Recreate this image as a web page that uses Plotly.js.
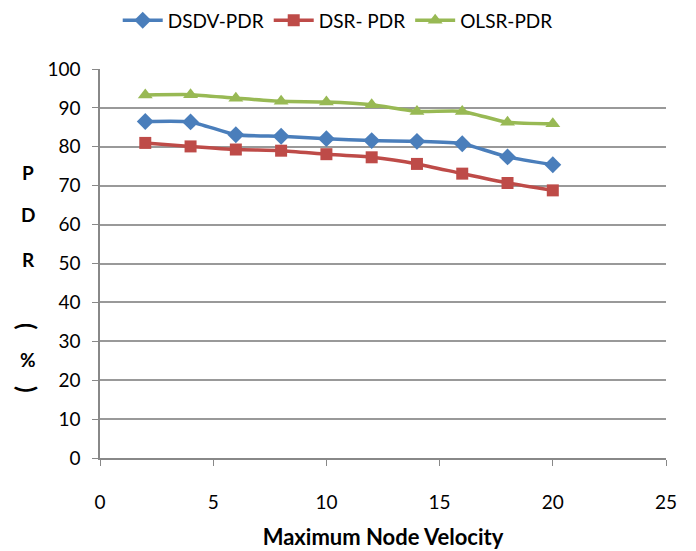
<!DOCTYPE html>
<html><head><meta charset="utf-8">
<script src="https://cdn.plot.ly/plotly-3.0.1.min.js"></script>
<style>html,body{margin:0;padding:0;background:#fff}#c{width:696px;height:551px}</style>
</head><body><div id="c"></div>
<script>
const velocity = [2, 4, 6, 8, 10, 12, 14, 16, 18, 20];
const dsdvPdr = [86.5, 86.4, 83.1, 82.7, 82.1, 81.6, 81.4, 80.8, 77.4, 75.4];
const dsrPdr  = [81.0, 80.1, 79.3, 79.0, 78.1, 77.3, 75.6, 73.1, 70.7, 68.8];
const olsrPdr = [93.3, 93.4, 92.5, 91.7, 91.5, 90.8, 89.1, 89.1, 86.3, 85.9];
const seriesNames = ["DSDV-PDR", "DSR- PDR", "OLSR-PDR"];
const yTitleChars = ["P", "D", "R", "(", "%", ")"];

const font = "Lato, Carlito, sans-serif";
function tr(y, name, color, sym, size) {
  return {x: velocity, y: y, name: name, type: "scatter", mode: "lines+markers",
    line: {color: color, width: 3.5, shape: "spline", smoothing: 0.6},
    marker: {symbol: sym, size: size, color: color}};
}
const data = [
  tr(dsdvPdr, seriesNames[0], "#4a7ebb", "diamond", 13),
  tr(dsrPdr, seriesNames[1], "#be4b48", "square", 12),
  tr(olsrPdr, seriesNames[2], "#98b954", "triangle-up", 13)
];
const yPos = [172, 214, 259, 326, 359, 389];
const annotations = yTitleChars.map((c, i) => ({
  text: "<b>" + c + "</b>", xref: "paper", yref: "paper",
  x: (28 - 100) / 566, xanchor: "center",
  y: (458 - yPos[i]) / 389, yanchor: "middle",
  showarrow: false,
  textangle: (i === 3 || i === 5) ? 90 : 0,
  font: {family: font, size: (i === 3 || i === 5) ? 24 : 19, color: "#000"}
}));

const layout = {
  width: 696, height: 551,
  margin: {l: 100, r: 30, t: 69, b: 93, autoexpand: false},
  paper_bgcolor: "#fff", plot_bgcolor: "#fff",
  font: {family: font, size: 19, color: "#000"},
  showlegend: true,
  legend: {orientation: "h", x: 0.42, xanchor: "center", y: 1.125, yanchor: "middle",
    font: {family: font, size: 19, color: "#000"}, itemwidth: 40, tracegroupgap: 0},
  xaxis: {range: [0, 25], tickvals: [0, 5, 10, 15, 20, 25], showgrid: false, zeroline: false,
    showline: true, linecolor: "#888", linewidth: 1.5, ticks: "outside", ticklen: 6, tickcolor: "#888",
    ticklabelstandoff: 20,
    title: {text: "<b>Maximum Node Velocity</b>", font: {family: font, size: 22}, standoff: 18}},
  yaxis: {range: [0, 100], dtick: 10, showgrid: true, gridcolor: "#999", gridwidth: 1.5, zeroline: false,
    showline: true, linecolor: "#888", linewidth: 1.5, ticks: "outside", ticklen: 6, tickcolor: "#888",
    ticklabelstandoff: 8},
  annotations: annotations
};
Plotly.newPlot("c", data, layout, {displayModeBar: false});
</script></body></html>
